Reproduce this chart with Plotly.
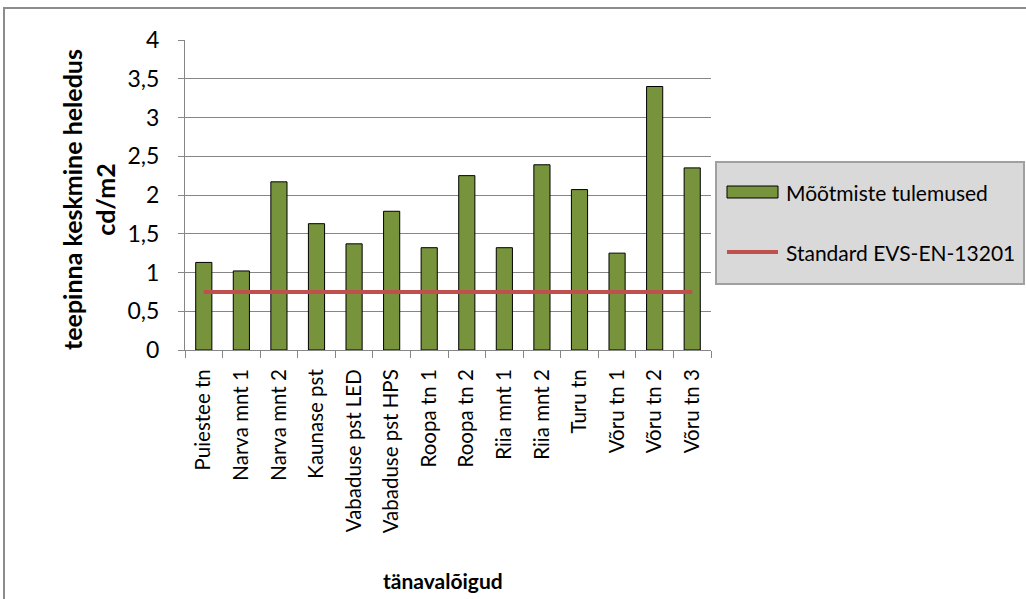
import plotly.graph_objects as go

categories = ["Puiestee tn", "Narva mnt 1", "Narva mnt 2", "Kaunase pst",
              "Vabaduse pst LED", "Vabaduse pst HPS", "Roopa tn 1", "Roopa tn 2",
              "Riia mnt 1", "Riia mnt 2", "Turu tn", "Võru tn 1", "Võru tn 2", "Võru tn 3"]
measured = [1.13, 1.02, 2.17, 1.63, 1.37, 1.79, 1.32, 2.25, 1.32, 2.39, 2.07, 1.25, 3.40, 2.35]
standard = [0.75] * len(categories)
y_ticks = [0, 0.5, 1, 1.5, 2, 2.5, 3, 3.5, 4]

series_names = ["Mõõtmiste tulemused", "Standard EVS-EN-13201"]
x_title = "tänavalõigud"
y_title = "teepinna keskmine heledus<br>cd/m2"

FONT = "Lato"
GREEN = "#77933c"
RED = "#c0504d"
GRID = "#868686"

fig = go.Figure()
fig.add_trace(go.Bar(
    x=categories, y=measured, name=series_names[0],
    marker=dict(color=GREEN, line=dict(color="#000000", width=1)),
))
fig.add_trace(go.Scatter(
    x=categories, y=standard, name=series_names[1], mode="lines",
    line=dict(color=RED, width=4),
))

# plot area in pixels
L, R, T, B = 185, 711, 40, 350
W, H = 1026, 599
pw, ph = R - L, B - T


def px(x):
    return (x - L) / pw


def py(y):
    return (B - y) / ph


shapes = [
    # chart frame
    dict(type="rect", xref="paper", yref="paper",
         x0=px(4), x1=px(1032), y0=py(8), y1=py(606),
         line=dict(color="#8c8c8c", width=2), fillcolor="rgba(0,0,0,0)", layer="below"),
    # legend box
    dict(type="rect", xref="paper", yref="paper",
         x0=px(716), x1=px(1024), y0=py(162), y1=py(284),
         line=dict(color="#a0a0a0", width=2), fillcolor="#d9d9d9"),
    # legend swatch: bars
    dict(type="rect", xref="paper", yref="paper",
         x0=px(727), x1=px(778), y0=py(186), y1=py(198),
         line=dict(color="#000000", width=1), fillcolor=GREEN),
    # legend swatch: line
    dict(type="line", xref="paper", yref="paper",
         x0=px(727), x1=px(778), y0=py(252), y1=py(252),
         line=dict(color=RED, width=4)),
]

annotations = [
    dict(text=series_names[0], xref="paper", yref="paper", x=px(784), y=py(192),
         xanchor="left", yanchor="middle", showarrow=False,
         font=dict(family=FONT, size=21, color="#000000")),
    dict(text=series_names[1], xref="paper", yref="paper", x=px(784), y=py(252),
         xanchor="left", yanchor="middle", showarrow=False,
         font=dict(family=FONT, size=21, color="#000000")),
    dict(text="<b>" + x_title + "</b>", xref="paper", yref="paper", x=px(443), y=py(580),
         xanchor="center", yanchor="middle", showarrow=False,
         font=dict(family=FONT, size=21, color="#000000")),
    dict(text="<b>" + y_title + "</b>", xref="paper", yref="paper", x=px(88), y=py(200),
         xanchor="center", yanchor="middle", showarrow=False, textangle=-90,
         font=dict(family=FONT, size=25, color="#000000")),
]

fig.update_layout(
    width=W, height=H,
    margin=dict(l=L, r=W - R, t=T, b=H - B, autoexpand=False),
    paper_bgcolor="white", plot_bgcolor="white",
    separators=", ",
    font=dict(family=FONT, color="#000000"),
    bargap=0.57,
    showlegend=False,
    xaxis=dict(
        type="category", tickangle=-90, tickfont=dict(size=20.5, family=FONT),
        showline=True, linecolor=GRID, linewidth=1,
        ticks="outside", tickson="boundaries", ticklen=7, tickcolor=GRID,
        ticklabelstandoff=10,
        showgrid=False,
    ),
    yaxis=dict(
        range=[0, 4], tickvals=y_ticks,
        tickfont=dict(size=23, family=FONT),
        showline=True, linecolor=GRID, linewidth=1,
        ticks="outside", ticklen=6, tickcolor=GRID,
        ticklabelstandoff=14,
        showgrid=True, gridcolor=GRID, gridwidth=1,
        zeroline=False,
    ),
    shapes=shapes,
    annotations=annotations,
)

fig.write_html("out.html")
